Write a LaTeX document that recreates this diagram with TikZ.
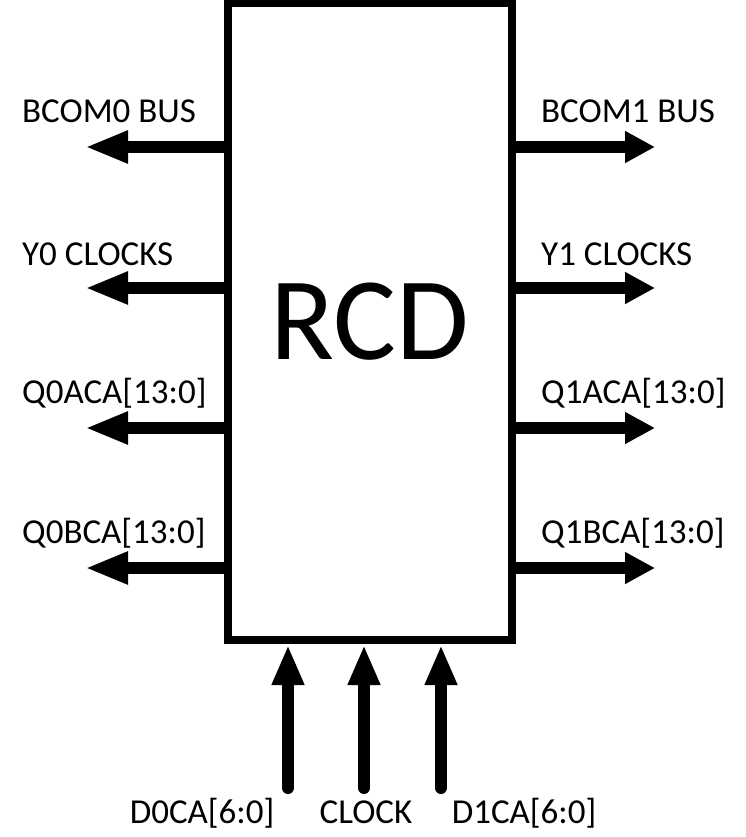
\documentclass[tikz,border=0pt]{standalone}
\usepackage{fontspec}
\setmainfont{Carlito}
\usetikzlibrary{arrows.meta}
\begin{document}
\begin{tikzpicture}[x=1pt,y=-1pt,
  rcdbox/.style={draw, line width=8pt, minimum width=284.5pt, minimum height=636pt, inner sep=0pt, font=\fontsize{118}{120}\selectfont},
  lbl/.style={anchor=base west, inner sep=0pt, font=\fontsize{35}{40}\selectfont},
  blbl/.style={anchor=base, inner sep=0pt, font=\fontsize{35}{40}\selectfont},
  sigL/.style={line width=12pt, -{Triangle[length=43pt,width=30pt]}},
  sigR/.style={line width=12pt, -{Triangle[length=30pt,width=30pt]}},
  sigU/.style={line width=12pt, line cap=round, -{Triangle[length=40pt,width=30pt]}}
]
\useasboundingbox (0,0) rectangle (746,837);
\node[rcdbox] (rcd) at (369.75,321.5) {RCD};

% left outputs
\coordinate (l1) at (85,147);
\coordinate (l2) at (85,288);
\coordinate (l3) at (85,428);
\coordinate (l4) at (85,568);
\draw[sigL] (rcd.west |- l1) -- (l1);
\draw[sigL] (rcd.west |- l2) -- (l2);
\draw[sigL] (rcd.west |- l3) -- (l3);
\draw[sigL] (rcd.west |- l4) -- (l4);
\node[lbl] (tl1) at (22,123) {BCOM0 BUS};
\node[lbl] (tl2) at (22,265) {Y0 CLOCKS};
\node[lbl] (tl3) at (22,403) {Q0ACA[13:0]};
\node[lbl] (tl4) at (22,543) {Q0BCA[13:0]};

% right outputs
\coordinate (r1) at (655,147);
\coordinate (r2) at (655,288);
\coordinate (r3) at (655,428);
\coordinate (r4) at (655,568);
\draw[sigR] (rcd.east |- r1) -- (r1);
\draw[sigR] (rcd.east |- r2) -- (r2);
\draw[sigR] (rcd.east |- r3) -- (r3);
\draw[sigR] (rcd.east |- r4) -- (r4);
\node[lbl] (tr1) at (541,123) {BCOM1 BUS};
\node[lbl] (tr2) at (541,265) {Y1 CLOCKS};
\node[lbl] (tr3) at (541,403) {Q1ACA[13:0]};
\node[lbl] (tr4) at (541,543) {Q1BCA[13:0]};

% bottom inputs
\coordinate (b1) at (288,788);
\coordinate (b2) at (364,788);
\coordinate (b3) at (441,788);
\draw[sigU] (b1) -- (b1 |- 0,645);
\draw[sigU] (b2) -- (b2 |- 0,645);
\draw[sigU] (b3) -- (b3 |- 0,645);
\node[blbl] (tb1) at (202,823) {D0CA[6:0]};
\node[blbl] (tb2) at (366,823) {CLOCK};
\node[blbl] (tb3) at (524,823) {D1CA[6:0]};
\end{tikzpicture}
\end{document}
